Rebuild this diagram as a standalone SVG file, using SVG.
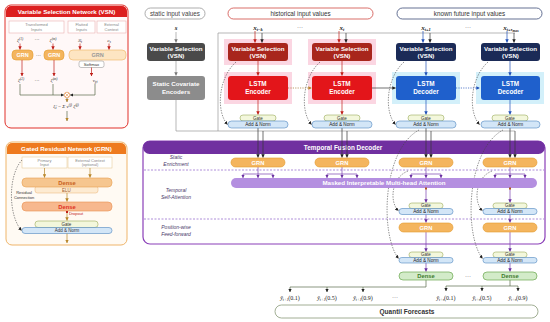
<svg xmlns="http://www.w3.org/2000/svg" width="550" height="322" viewBox="0 0 550 322">
<defs>
<style>
.t{font-family:"Liberation Sans",Arial,sans-serif;text-anchor:middle}
.b{font-weight:bold}
.w{fill:#fff}
.m{font-family:"Liberation Serif","DejaVu Serif",serif;font-style:italic;text-anchor:middle;fill:#222}
.c{fill:none;stroke-width:0.7}
.dk{stroke:#333}.rd{stroke:#c0201a}.bl{stroke:#2050b8}.pu{stroke:#7a3fb0}.gy{stroke:#9a9a9a}.gr{stroke:#5a6a4a}
.ds{fill:none;stroke:#444;stroke-width:0.6;stroke-dasharray:1.4 1.2}
.sep{stroke:#9b72cf;stroke-width:0.8;stroke-dasharray:2 1.5}
.gate{fill:#f3f7dc;stroke:#9aab5a;stroke-width:0.6}
.an{fill:#d3e6f7;stroke:#4f86c0;stroke-width:0.6}
.grn{fill:#f4b55e;stroke:#e39a2e;stroke-width:0.6}
.dense{fill:#d3ebc9;stroke:#6aa84f;stroke-width:0.7}
.s5{font-size:5px}.s6{font-size:6px}
</style>
<marker id="ad" viewBox="0 0 6 6" refX="5.5" refY="3" markerWidth="3.5" markerHeight="3.5" markerUnits="userSpaceOnUse" orient="auto"><path d="M0,0 L6,3 L0,6z" fill="#222"/></marker>
<marker id="ar" viewBox="0 0 6 6" refX="5.5" refY="3" markerWidth="3.5" markerHeight="3.5" markerUnits="userSpaceOnUse" orient="auto"><path d="M0,0 L6,3 L0,6z" fill="#c0201a"/></marker>
<marker id="ab" viewBox="0 0 6 6" refX="5.5" refY="3" markerWidth="3.5" markerHeight="3.5" markerUnits="userSpaceOnUse" orient="auto"><path d="M0,0 L6,3 L0,6z" fill="#2050b8"/></marker>
<marker id="ap" viewBox="0 0 6 6" refX="5.5" refY="3" markerWidth="3.5" markerHeight="3.5" markerUnits="userSpaceOnUse" orient="auto"><path d="M0,0 L6,3 L0,6z" fill="#6a2fa0"/></marker>
<marker id="ag" viewBox="0 0 6 6" refX="5.5" refY="3" markerWidth="3.5" markerHeight="3.5" markerUnits="userSpaceOnUse" orient="auto"><path d="M0,0 L6,3 L0,6z" fill="#777"/></marker>
<marker id="ao" viewBox="0 0 6 6" refX="5.5" refY="3" markerWidth="3.5" markerHeight="3.5" markerUnits="userSpaceOnUse" orient="auto"><path d="M0,0 L6,3 L0,6z" fill="#b8862a"/></marker>
</defs>
<rect width="550" height="322" fill="#fff"/>

<!-- VSN panel -->
<g id="vsn-panel">
<rect x="5" y="5" width="123" height="123" rx="6" fill="#fff8f8" stroke="#e0302a" stroke-width="1"/>
<path d="M11,6 H122 A5,5 0 0 1 127,11 V17 H6 V11 A5,5 0 0 1 11,6z" fill="#dc1f1f"/>
<text class="t b w" x="66.5" y="14.2" font-size="6.2">Variable Selection Network (VSN)</text>
<rect x="9" y="21" width="55" height="12" fill="#fff" stroke="#e6a3a3" stroke-width="0.5"/>
<rect x="68" y="21" width="27" height="12" fill="#fff" stroke="#e6a3a3" stroke-width="0.5"/>
<rect x="97" y="21" width="29" height="12" fill="#fff" stroke="#e6a3a3" stroke-width="0.5"/>
<text class="t" x="36.5" y="26.2" font-size="4" fill="#888">Transformed</text>
<text class="t" x="36.5" y="31" font-size="4" fill="#888">Inputs</text>
<text class="t" x="81.5" y="26.2" font-size="4" fill="#888">Flatted</text>
<text class="t" x="81.5" y="31" font-size="4" fill="#888">Inputs</text>
<text class="t" x="111.5" y="26.2" font-size="4" fill="#888">External</text>
<text class="t" x="111.5" y="31" font-size="4" fill="#888">Context</text>
<text class="m" x="20" y="41.5" font-size="5">ξ<tspan font-size="3.5" dy="-2">(1)</tspan></text>
<text class="t" x="37" y="41" font-size="5" fill="#333">···</text>
<text class="m" x="53" y="41.5" font-size="5">ξ<tspan font-size="3.5" dy="-2">(m)</tspan></text>
<text class="m" x="80" y="41.5" font-size="5">Ξ<tspan font-size="3.5" dy="1">t</tspan></text>
<text class="m" x="109" y="41.5" font-size="5">c<tspan font-size="3.5" dy="1">s</tspan></text>
<rect x="12" y="50" width="21" height="10" rx="4" class="grn"/>
<text class="t b w" x="22.5" y="57" font-size="5.5">GRN</text>
<text class="t" x="38.5" y="56.5" font-size="5" fill="#333">···</text>
<rect x="44" y="50" width="20" height="10" rx="4" class="grn"/>
<text class="t b w" x="54" y="57" font-size="5.5">GRN</text>
<rect x="69" y="50" width="57" height="10" rx="4" fill="#fde5c2" stroke="#efb360" stroke-width="0.6"/>
<text class="t b" x="97.5" y="57" font-size="5.5" fill="#999">GRN</text>
<rect x="79" y="61" width="25" height="6.5" rx="2" fill="#fff" stroke="#888" stroke-width="0.5"/>
<text class="t" x="91.5" y="66" font-size="4.2" fill="#333">Softmax</text>
<text class="m" x="21" y="82" font-size="5">ξ̃<tspan font-size="3.5" dy="-2">(1)</tspan></text>
<text class="t" x="37" y="81.5" font-size="5" fill="#333">···</text>
<text class="m" x="54" y="82" font-size="5">ξ̃<tspan font-size="3.5" dy="-2">(m)</tspan></text>
<text class="m" x="95" y="82" font-size="5">v<tspan font-size="3.5" dy="1">χt</tspan></text>
<circle cx="67" cy="95" r="2.8" fill="#fff" stroke="#e08030" stroke-width="0.6"/>
<path d="M65,93 L69,97 M69,93 L65,97" stroke="#e08030" stroke-width="0.5"/>
<text class="m" x="66" y="108" font-size="5">ξ̃<tspan font-size="3.5" dy="1">t</tspan><tspan dy="-1"> = Σ v</tspan><tspan font-size="3.5" dy="-2">(j)</tspan><tspan dy="2"> ξ̃</tspan><tspan font-size="3.5" dy="-2">(j)</tspan></text>
</g>

<!-- GRN panel -->
<g id="grn-panel">
<rect x="6" y="142" width="121" height="103" rx="6" fill="#fffaf3" stroke="#efb56a" stroke-width="1"/>
<path d="M12,143 H121 A5,5 0 0 1 126,148 V154 H7 V148 A5,5 0 0 1 12,143z" fill="#ee7a1e"/>
<text class="t b w" x="66.5" y="151.2" font-size="6.2">Gated Residual Network (GRN)</text>
<rect x="22" y="157" width="45" height="11" fill="#fff" stroke="#e3c48a" stroke-width="0.5"/>
<rect x="68" y="157" width="44" height="11" fill="#fff" stroke="#e3c48a" stroke-width="0.5"/>
<text class="t" x="44.5" y="161.8" font-size="4" fill="#888">Primary</text>
<text class="t" x="44.5" y="166.3" font-size="4" fill="#888">Input</text>
<text class="t" x="90" y="161.8" font-size="4" fill="#888">External Context</text>
<text class="t" x="90" y="166.3" font-size="4" fill="#888">(optional)</text>
<rect x="35" y="186" width="63" height="7" rx="2.5" fill="#fdebd2" stroke="#e8b070" stroke-width="0.5"/>
<text class="t" x="66.5" y="191.7" font-size="4.5" fill="#a0602a">ELU</text>
<rect x="22" y="178" width="90" height="9" rx="4" fill="#f6c68f" stroke="#e8a050" stroke-width="0.6"/>
<text class="t b" x="67" y="184.8" font-size="5.8" fill="#c8601a">Dense</text>
<rect x="22" y="202" width="90" height="9" rx="4" fill="#f7b88e" stroke="#e89050" stroke-width="0.6"/>
<text class="t b" x="67" y="208.8" font-size="5.8" fill="#e0301e">Dense</text>
<rect x="66" y="211" width="2" height="2" fill="#c0201a"/>
<text class="t" x="76" y="215.3" font-size="4" fill="#c0201a">Dropout</text>
<rect x="35" y="221" width="63" height="6.5" rx="3" class="gate"/>
<text class="t" x="66.5" y="226" font-size="4.5" fill="#333">Gate</text>
<rect x="22" y="227.5" width="90" height="6" rx="3" class="an"/>
<text class="t" x="67" y="232.2" font-size="4.5" fill="#333">Add &amp; Norm</text>
<text class="t" x="24" y="194" font-size="4" fill="#333">Residual</text>
<text class="t" x="24" y="198.5" font-size="4" fill="#333">Connection</text>
</g>

<!-- header pills -->
<g id="header-static">
<rect x="145" y="8" width="60" height="11" rx="5.5" fill="#fff" stroke="#8a8a8a" stroke-width="0.7"/>
<text class="t" x="175" y="16" font-size="6.3" fill="#444">static input values</text>
</g>
<g id="header-historical">
<rect x="228" y="8" width="145" height="11" rx="5.5" fill="#fff" stroke="#c8302a" stroke-width="0.7"/>
<text class="t" x="300.5" y="16" font-size="6.3" fill="#333">historical input values</text>
</g>
<g id="header-future">
<rect x="397" y="8" width="145" height="11" rx="5.5" fill="#fff" stroke="#223366" stroke-width="0.7"/>
<text class="t" x="469.5" y="16" font-size="6.3" fill="#333">known future input values</text>
</g>

<!-- halos -->
<g id="halos">
<rect x="224" y="39" width="68" height="26" fill="#fbd6e2"/>
<rect x="224" y="72" width="68" height="32" fill="#fbd6e2"/>
<rect x="308" y="39" width="68" height="26" fill="#fbd6e2"/>
<rect x="308" y="72" width="68" height="32" fill="#fbd6e2"/>
<rect x="392" y="72" width="68" height="32" fill="#d3f0fa"/>
<rect x="476" y="72" width="68" height="32" fill="#d3f0fa"/>
</g>

<!-- decoder panel background -->
<g id="decoder-panel">
<rect x="143" y="141" width="402" height="103" rx="7" fill="#fff" stroke="#8a3fb8" stroke-width="1.2"/>
<rect x="143" y="141" width="402" height="13" rx="6.5" fill="#7030a0"/>
<text class="t b w" x="343" y="150.3" font-size="6.4">Temporal Fusion Decoder</text>
<line x1="144" y1="170" x2="544" y2="170" class="sep"/>
<line x1="144" y1="219" x2="544" y2="219" class="sep"/>
<text class="t" x="176" y="159" font-size="5" font-style="italic" fill="#4a3a6a">Static</text>
<text class="t" x="176" y="165.5" font-size="5" font-style="italic" fill="#4a3a6a">Enrichment</text>
<text class="t" x="176" y="192" font-size="5" font-style="italic" fill="#4a3a6a">Temporal</text>
<text class="t" x="176" y="198.5" font-size="5" font-style="italic" fill="#4a3a6a">Self-Attention</text>
<text class="t" x="176" y="229" font-size="5" font-style="italic" fill="#4a3a6a">Position-wise</text>
<text class="t" x="176" y="235.5" font-size="5" font-style="italic" fill="#4a3a6a">Feed-forward</text>
</g>

<!-- connectors -->
<g id="connectors">
<!-- VSN panel internals -->
<path class="c rd" d="M20,43.5 V49.5" marker-end="url(#ar)"/>
<path class="c rd" d="M53,43.5 V49.5" marker-end="url(#ar)"/>
<path class="c rd" d="M80,43.5 V49.5" marker-end="url(#ar)"/>
<path class="c rd" d="M109,43.5 V49.5" marker-end="url(#ar)"/>
<path class="c rd" d="M22,60 V76" marker-end="url(#ar)"/>
<path class="c rd" d="M54,60 V76" marker-end="url(#ar)"/>
<path class="c rd" d="M91.5,67.5 V76" marker-end="url(#ar)"/>
<path class="c gr" d="M20,84 V95 H63.8" marker-end="url(#ad)"/>
<path class="c gr" d="M53,84 V95"/>
<path class="c gr" d="M95,84 V95 H70.2" marker-end="url(#ad)"/>
<path class="c gr" d="M67,98 V102" marker-end="url(#ao)"/>
<path class="c gr" d="M67,111 V121" marker-end="url(#ao)"/>
<!-- GRN panel internals -->
<path class="c" stroke="#b8862a" d="M44.5,168 V177.5" marker-end="url(#ao)"/>
<path class="c" stroke="#b8862a" d="M90,168 V177.5" marker-end="url(#ao)"/>
<path class="c" stroke="#b8862a" d="M67,193 V201.5" marker-end="url(#ao)"/>
<path class="c" stroke="#b8862a" d="M67,213 V220.5" marker-end="url(#ao)"/>
<path class="c" stroke="#b8862a" d="M67,233.5 V243" marker-end="url(#ao)"/>
<path class="ds" d="M22,160 C8,175 8,215 21.5,230.5" marker-end="url(#ad)"/>
<!-- static column -->
<path class="c gy" d="M176,32 V42.5" marker-end="url(#ag)"/>
<path class="c gy" d="M176,61 V75.5" marker-end="url(#ag)"/>
<path class="c gy" d="M176,100 V131 H515"/>
<path class="c gy" d="M218,131 V33 H515"/>
<!-- context into VSNs -->
<path class="c dk" d="M262,33 V42.5" marker-end="url(#ad)"/>
<path class="c dk" d="M346,33 V42.5" marker-end="url(#ad)"/>
<path class="c dk" d="M430,33 V42.5" marker-end="url(#ad)"/>
<path class="c dk" d="M514,33 V42.5" marker-end="url(#ad)"/>
<!-- inputs into VSNs -->
<path class="c rd" d="M255,31 V42.5" marker-end="url(#ar)"/>
<path class="c rd" d="M339,31 V42.5" marker-end="url(#ar)"/>
<path class="c bl" d="M423,31 V42.5" marker-end="url(#ab)"/>
<path class="c bl" d="M507,31 V42.5" marker-end="url(#ab)"/>
<!-- VSN to LSTM -->
<path class="c rd" d="M258,61 V75.5" marker-end="url(#ar)"/>
<path class="c rd" d="M342,61 V75.5" marker-end="url(#ar)"/>
<path class="c bl" d="M426,61 V75.5" marker-end="url(#ab)"/>
<path class="c bl" d="M510,61 V75.5" marker-end="url(#ab)"/>
<!-- LSTM to gate -->
<path class="c rd" d="M258,100 V114.5" marker-end="url(#ar)"/>
<path class="c rd" d="M342,100 V114.5" marker-end="url(#ar)"/>
<path class="c bl" d="M426,100 V114.5" marker-end="url(#ab)"/>
<path class="c bl" d="M510,100 V114.5" marker-end="url(#ab)"/>
<!-- LSTM chain -->
<path class="c" stroke="#a0702a" stroke-dasharray="1.2 1.2" d="M288,88 H311.5" marker-end="url(#ao)"/>
<path class="c dk" d="M372,88 H395.5" marker-end="url(#ad)"/>
<path class="c bl" stroke-dasharray="1.2 1.2" d="M456,88 H479.5" marker-end="url(#ab)"/>
<!-- residual arcs around LSTM -->
<path class="ds" d="M236,62 C218,78 216,112 227.5,124.5" marker-end="url(#ad)"/>
<path class="ds" d="M320,62 C302,78 300,112 311.5,124.5" marker-end="url(#ad)"/>
<path class="ds" d="M404,62 C386,78 384,112 395.5,124.5" marker-end="url(#ad)"/>
<path class="ds" d="M488,62 C470,78 468,112 479.5,124.5" marker-end="url(#ad)"/>
<!-- Add&Norm to enrichment GRN -->
<path class="c dk" d="M258,128 V157.5" marker-end="url(#ad)"/>
<path class="c dk" d="M342,128 V157.5" marker-end="url(#ad)"/>
<path class="c dk" d="M426,128 V157.5" marker-end="url(#ad)"/>
<path class="c dk" d="M510,128 V157.5" marker-end="url(#ad)"/>
<path class="c dk" d="M263,131 V157.5" marker-end="url(#ad)"/>
<path class="c dk" d="M347,131 V157.5" marker-end="url(#ad)"/>
<path class="c dk" d="M431,131 V157.5" marker-end="url(#ad)"/>
<path class="c dk" d="M515,131 V157.5" marker-end="url(#ad)"/>
<!-- GRN to attention -->
<path class="c pu" d="M258,167 V174 M243,174 H273 M342,167 V174 M327,174 H357 M426,167 V174 M411,174 H441 M510,167 V174 M495,174 H525"/>
<path class="c pu" d="M243,174 V177.8" marker-end="url(#ap)"/>
<path class="c pu" d="M258,174 V177.8" marker-end="url(#ap)"/>
<path class="c pu" d="M273,174 V177.8" marker-end="url(#ap)"/>
<path class="c pu" d="M327,174 V177.8" marker-end="url(#ap)"/>
<path class="c pu" d="M342,174 V177.8" marker-end="url(#ap)"/>
<path class="c pu" d="M357,174 V177.8" marker-end="url(#ap)"/>
<path class="c pu" d="M411,174 V177.8" marker-end="url(#ap)"/>
<path class="c pu" d="M426,174 V177.8" marker-end="url(#ap)"/>
<path class="c pu" d="M441,174 V177.8" marker-end="url(#ap)"/>
<path class="c pu" d="M495,174 V177.8" marker-end="url(#ap)"/>
<path class="c pu" d="M510,174 V177.8" marker-end="url(#ap)"/>
<path class="c pu" d="M525,174 V177.8" marker-end="url(#ap)"/>
<!-- decoder columns downstream -->
<path class="c pu" d="M426,189 V202.5" marker-end="url(#ap)"/>
<path class="c pu" d="M510,189 V202.5" marker-end="url(#ap)"/>
<path class="c pu" d="M426,214 V222.5" marker-end="url(#ap)"/>
<path class="c pu" d="M510,214 V222.5" marker-end="url(#ap)"/>
<path class="c pu" d="M426,232 V251.5" marker-end="url(#ap)"/>
<path class="c pu" d="M510,232 V251.5" marker-end="url(#ap)"/>
<path class="c pu" d="M426,262 V271.5" marker-end="url(#ap)"/>
<path class="c pu" d="M510,262 V271.5" marker-end="url(#ap)"/>
<!-- skip arcs in decoder -->
<path class="ds" d="M419,130 C382,150 380,235 398.5,258.5" marker-end="url(#ad)"/>
<path class="ds" d="M503,130 C466,150 464,235 482.5,258.5" marker-end="url(#ad)"/>
<path class="ds" d="M408,171 C390,178 390,204 398.5,210.5" marker-end="url(#ad)"/>
<path class="ds" d="M492,171 C474,178 474,204 482.5,210.5" marker-end="url(#ad)"/>
<!-- outputs -->
<path class="c gr" d="M426,280 V287 H290"/>
<path class="c gr" d="M290,287 V292" marker-end="url(#ad)"/>
<path class="c gr" d="M327,287 V292" marker-end="url(#ad)"/>
<path class="c gr" d="M363,287 V292" marker-end="url(#ad)"/>
<path class="c gr" d="M510,280 V286 M446,286 H518"/>
<path class="c gr" d="M446,286 V291" marker-end="url(#ad)"/>
<path class="c gr" d="M482,286 V291" marker-end="url(#ad)"/>
<path class="c gr" d="M518,286 V291" marker-end="url(#ad)"/>
</g>

<!-- static column nodes -->
<g id="s-label"><text class="m b" x="176" y="29.5" font-size="7">s</text></g>
<g id="static-vsn">
<rect x="147" y="43" width="58" height="18" rx="3" fill="#4a4a4a"/>
<text class="t b w" x="176" y="50.8" font-size="6.2">Variable Selection</text>
<text class="t b w" x="176" y="58" font-size="6.2">(VSN)</text>
</g>
<g id="static-encoders">
<rect x="147" y="76" width="58" height="24" rx="3" fill="#8c8c8c"/>
<text class="t b w" x="176" y="86.3" font-size="6.2">Static Covariate</text>
<text class="t b w" x="176" y="94" font-size="6.2">Encoders</text>
</g>

<!-- input labels -->
<g id="input-labels">
<text class="m b" x="258" y="29.5" font-size="7">x<tspan font-size="4.5" dy="1.5">t−k</tspan></text>
<text class="t" x="300" y="29" font-size="6" fill="#444">···</text>
<text class="m b" x="342" y="29.5" font-size="7">x<tspan font-size="4.5" dy="1.5">t</tspan></text>
<text class="m b" x="426" y="29.5" font-size="7">x<tspan font-size="4.5" dy="1.5">t+1</tspan></text>
<text class="t" x="468" y="29" font-size="6" fill="#444">···</text>
<text class="m b" x="511" y="29.5" font-size="7">x<tspan font-size="4.5" dy="1.5">t+τ<tspan font-size="3.5" dy="1">max</tspan></tspan></text>
</g>

<!-- historical column 1 -->
<g id="vsn-hist-1">
<rect x="228" y="43" width="60" height="18" rx="3" fill="#a8261c"/>
<text class="t b w" x="258" y="50.8" font-size="6.2">Variable Selection</text>
<text class="t b w" x="258" y="58" font-size="6.2">(VSN)</text>
</g>
<g id="lstm-enc-1">
<rect x="228" y="76" width="60" height="24" rx="3" fill="#e3151a"/>
<text class="t b w" x="258" y="86.3" font-size="6.4">LSTM</text>
<text class="t b w" x="258" y="94" font-size="6.4">Encoder</text>
</g>
<g id="gate-an-1">
<rect x="240" y="115" width="36" height="6" rx="3" class="gate"/>
<text class="t" x="258" y="119.6" font-size="4.5" fill="#333">Gate</text>
<rect x="228" y="121" width="60" height="7" rx="3.5" class="an"/>
<text class="t" x="258" y="126.2" font-size="4.7" fill="#222">Add &amp; Norm</text>
</g>

<!-- historical column 2 -->
<g id="vsn-hist-2">
<rect x="312" y="43" width="60" height="18" rx="3" fill="#a8261c"/>
<text class="t b w" x="342" y="50.8" font-size="6.2">Variable Selection</text>
<text class="t b w" x="342" y="58" font-size="6.2">(VSN)</text>
</g>
<g id="lstm-enc-2">
<rect x="312" y="76" width="60" height="24" rx="3" fill="#e3151a"/>
<text class="t b w" x="342" y="86.3" font-size="6.4">LSTM</text>
<text class="t b w" x="342" y="94" font-size="6.4">Encoder</text>
</g>
<g id="gate-an-2">
<rect x="324" y="115" width="36" height="6" rx="3" class="gate"/>
<text class="t" x="342" y="119.6" font-size="4.5" fill="#333">Gate</text>
<rect x="312" y="121" width="60" height="7" rx="3.5" class="an"/>
<text class="t" x="342" y="126.2" font-size="4.7" fill="#222">Add &amp; Norm</text>
</g>

<!-- future column 1 -->
<g id="vsn-fut-1">
<rect x="396" y="43" width="60" height="18" rx="3" fill="#1b2b57"/>
<text class="t b w" x="426" y="50.8" font-size="6.2">Variable Selection</text>
<text class="t b w" x="426" y="58" font-size="6.2">(VSN)</text>
</g>
<g id="lstm-dec-1">
<rect x="396" y="76" width="60" height="24" rx="3" fill="#1f60cc"/>
<text class="t b w" x="426" y="86.3" font-size="6.4">LSTM</text>
<text class="t b w" x="426" y="94" font-size="6.4">Decoder</text>
</g>
<g id="gate-an-3">
<rect x="408" y="115" width="36" height="6" rx="3" class="gate"/>
<text class="t" x="426" y="119.6" font-size="4.5" fill="#333">Gate</text>
<rect x="396" y="121" width="60" height="7" rx="3.5" class="an"/>
<text class="t" x="426" y="126.2" font-size="4.7" fill="#222">Add &amp; Norm</text>
</g>

<!-- future column 2 -->
<g id="vsn-fut-2">
<rect x="481" y="43" width="59" height="18" rx="3" fill="#1b2b57"/>
<text class="t b w" x="510.5" y="50.8" font-size="6.2">Variable Selection</text>
<text class="t b w" x="510.5" y="58" font-size="6.2">(VSN)</text>
</g>
<g id="lstm-dec-2">
<rect x="481" y="76" width="59" height="24" rx="3" fill="#1f60cc"/>
<text class="t b w" x="510.5" y="86.3" font-size="6.4">LSTM</text>
<text class="t b w" x="510.5" y="94" font-size="6.4">Decoder</text>
</g>
<g id="gate-an-4">
<rect x="492" y="115" width="36" height="6" rx="3" class="gate"/>
<text class="t" x="510" y="119.6" font-size="4.5" fill="#333">Gate</text>
<rect x="481" y="121" width="59" height="7" rx="3.5" class="an"/>
<text class="t" x="510.5" y="126.2" font-size="4.7" fill="#222">Add &amp; Norm</text>
</g>

<!-- enrichment GRNs -->
<g id="enrich-grn-1"><rect x="231" y="158" width="54" height="9" rx="4.5" class="grn"/><text class="t b w" x="258" y="164.7" font-size="5.8">GRN</text></g>
<g id="enrich-grn-2"><rect x="315" y="158" width="54" height="9" rx="4.5" class="grn"/><text class="t b w" x="342" y="164.7" font-size="5.8">GRN</text></g>
<g id="enrich-grn-3"><rect x="399" y="158" width="54" height="9" rx="4.5" class="grn"/><text class="t b w" x="426" y="164.7" font-size="5.8">GRN</text></g>
<g id="enrich-grn-4"><rect x="483" y="158" width="54" height="9" rx="4.5" class="grn"/><text class="t b w" x="510" y="164.7" font-size="5.8">GRN</text></g>

<!-- attention -->
<g id="attention">
<rect x="231" y="178" width="306" height="10" rx="5" fill="#b48fe0"/>
<text class="t b w" x="384" y="185.2" font-size="6.2">Masked Interpretable Multi-head Attention</text>
<rect x="425" y="187.5" width="2" height="2" fill="#b0561e"/>
<rect x="509" y="187.5" width="2" height="2" fill="#b0561e"/>
</g>

<!-- attention gate / add&norm -->
<g id="att-gate-3">
<rect x="409" y="203" width="34" height="5.5" rx="2.7" class="gate"/>
<text class="t" x="426" y="207.3" font-size="4.5" fill="#333">Gate</text>
<rect x="399" y="208.5" width="54" height="6" rx="3" class="an"/>
<text class="t" x="426" y="213.2" font-size="4.7" fill="#222">Add &amp; Norm</text>
</g>
<g id="att-gate-4">
<rect x="493" y="203" width="34" height="5.5" rx="2.7" class="gate"/>
<text class="t" x="510" y="207.3" font-size="4.5" fill="#333">Gate</text>
<rect x="483" y="208.5" width="54" height="6" rx="3" class="an"/>
<text class="t" x="510" y="213.2" font-size="4.7" fill="#222">Add &amp; Norm</text>
</g>

<!-- position-wise GRNs -->
<g id="ff-grn-3"><rect x="399" y="223" width="54" height="9" rx="4.5" class="grn"/><text class="t b w" x="426" y="229.7" font-size="5.8">GRN</text></g>
<g id="ff-grn-4"><rect x="483" y="223" width="54" height="9" rx="4.5" class="grn"/><text class="t b w" x="510" y="229.7" font-size="5.8">GRN</text></g>

<!-- final gate / add&norm -->
<g id="final-gate-3">
<rect x="409" y="252" width="34" height="5.5" rx="2.7" class="gate"/>
<text class="t" x="426" y="256.3" font-size="4.5" fill="#333">Gate</text>
<rect x="399" y="257.5" width="54" height="5.5" rx="2.7" class="an"/>
<text class="t" x="426" y="261.9" font-size="4.7" fill="#222">Add &amp; Norm</text>
</g>
<g id="final-gate-4">
<rect x="493" y="252" width="34" height="5.5" rx="2.7" class="gate"/>
<text class="t" x="510" y="256.3" font-size="4.5" fill="#333">Gate</text>
<rect x="483" y="257.5" width="54" height="5.5" rx="2.7" class="an"/>
<text class="t" x="510" y="261.9" font-size="4.7" fill="#222">Add &amp; Norm</text>
</g>

<!-- dense -->
<g id="dense-3"><rect x="399" y="272" width="54" height="8" rx="4" class="dense"/><text class="t b" x="426" y="278.2" font-size="5.8" fill="#3b7a2b">Dense</text></g>
<text class="t" x="468" y="278" font-size="6" fill="#444">···</text>
<g id="dense-4"><rect x="483" y="272" width="54" height="8" rx="4" class="dense"/><text class="t b" x="510" y="278.2" font-size="5.8" fill="#3b7a2b">Dense</text></g>

<!-- quantile outputs -->
<g id="outputs">
<text class="m" x="290" y="299.5" font-size="6">ŷ<tspan font-size="3.8" dy="1.3">t+1</tspan><tspan font-style="normal" dy="-1.3">(0.1)</tspan></text>
<text class="m" x="327" y="299.5" font-size="6">ŷ<tspan font-size="3.8" dy="1.3">t+1</tspan><tspan font-style="normal" dy="-1.3">(0.5)</tspan></text>
<text class="m" x="363" y="299.5" font-size="6">ŷ<tspan font-size="3.8" dy="1.3">t+1</tspan><tspan font-style="normal" dy="-1.3">(0.9)</tspan></text>
<text class="t" x="395" y="299" font-size="6" fill="#444">···</text>
<text class="m" x="446" y="299.5" font-size="6">ŷ<tspan font-size="3.8" dy="1.3">t+τ</tspan><tspan font-style="normal" dy="-1.3">(0.1)</tspan></text>
<text class="m" x="482" y="299.5" font-size="6">ŷ<tspan font-size="3.8" dy="1.3">t+τ</tspan><tspan font-style="normal" dy="-1.3">(0.5)</tspan></text>
<text class="m" x="518" y="299.5" font-size="6">ŷ<tspan font-size="3.8" dy="1.3">t+τ</tspan><tspan font-style="normal" dy="-1.3">(0.9)</tspan></text>
</g>
<g id="quantile-forecasts">
<rect x="275" y="305" width="263" height="13" rx="6.5" fill="#fff" stroke="#8a9a7a" stroke-width="0.8"/>
<text class="t b" x="407" y="313.8" font-size="6.5" fill="#333">Quantil Forecasts</text>
</g>
</svg>
